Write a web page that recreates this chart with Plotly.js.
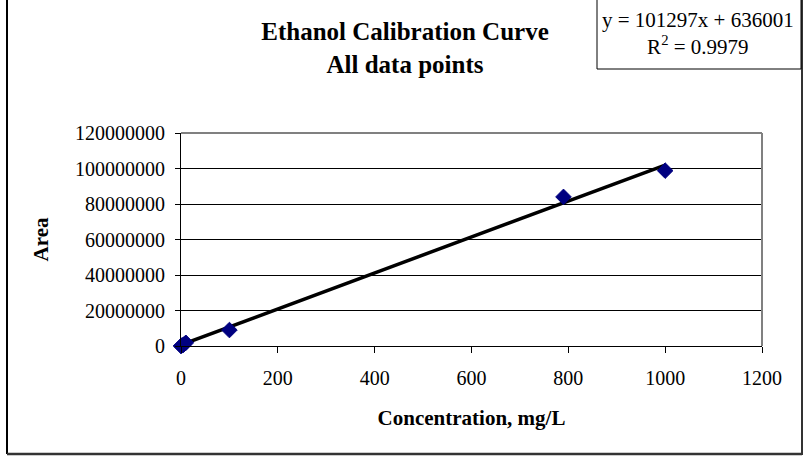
<!DOCTYPE html>
<html>
<head>
<meta charset="utf-8">
<script src="https://cdn.plot.ly/plotly-3.0.1.min.js"></script>
<style>html,body{margin:0;padding:0;background:#fff;}#chart{width:804px;height:462px;}</style>
</head>
<body>
<div id="chart"></div>
<script>
// Data
const concentration = [0, 2, 5, 10, 100, 790, 1000];
const area = [0, 300000, 700000, 1800000, 9000000, 84000000, 98800000];
const slope = 101297;
const intercept = 636001;
const trendX = [0, 1000];
const trendY = trendX.map(x => slope * x + intercept);
const xTicks = [0, 200, 400, 600, 800, 1000, 1200];
const yTicks = [0, 20000000, 40000000, 60000000, 80000000, 100000000, 120000000];

const L = 181, R = 42, T = 133, B = 116, W = 804, H = 462;
const pw = W - L - R, ph = H - T - B;
const px = v => (v - L) / pw;          // pixel -> paper x
const py = v => (H - B - v) / ph;      // pixel -> paper y

const serif = "Liberation Serif, Times New Roman, serif";

const traces = [
  {
    x: trendX, y: trendY, mode: 'lines', type: 'scatter',
    line: {color: '#000000', width: 3.5}, hoverinfo: 'skip', showlegend: false
  },
  {
    x: concentration, y: area, mode: 'markers', type: 'scatter',
    marker: {symbol: 'diamond', size: 12, color: '#000080', line: {color: '#000080', width: 1}},
    showlegend: false, cliponaxis: false
  }
];

const layout = {
  width: W, height: H,
  margin: {l: L, r: R, t: T, b: B},
  paper_bgcolor: '#ffffff', plot_bgcolor: '#ffffff',
  font: {family: serif, color: '#000000', size: 20},
  title: {
    text: '<b>Ethanol Calibration Curve<br>All data points</b>',
    font: {family: serif, size: 25, color: '#000'},
    x: 405 / W, xref: 'container', xanchor: 'center',
    y: 1 - 40 / H, yref: 'container', yanchor: 'middle'
  },
  xaxis: {
    range: [0, 1200], tickvals: xTicks, ticktext: xTicks.map(String),
    showgrid: false, zeroline: false, showline: true, linecolor: '#000', linewidth: 1,
    ticks: 'outside', ticklen: 6, tickcolor: '#000', tickfont: {family: serif, size: 20},
    ticklabelstandoff: 8,
    title: {text: '<b>Concentration, mg/L</b>', font: {family: serif, size: 21}, standoff: 22}
  },
  yaxis: {
    range: [0, 120000000], tickvals: yTicks, ticktext: yTicks.map(String),
    showgrid: true, gridcolor: '#000', gridwidth: 1,
    zeroline: false, showline: true, linecolor: '#000', linewidth: 1,
    ticks: 'outside', ticklen: 5, tickcolor: '#000', tickfont: {family: serif, size: 20},
    ticklabelstandoff: 6,
    title: {text: '<b>Area</b>', font: {family: serif, size: 21}, standoff: 20}
  },
  shapes: [
    // plot area border (gray top/right)
    {type: 'line', xref: 'paper', yref: 'paper', x0: 0, x1: 1, y0: 1, y1: 1, line: {color: '#808080', width: 2}},
    {type: 'line', xref: 'paper', yref: 'paper', x0: 1, x1: 1, y0: 0, y1: 1, line: {color: '#808080', width: 2}},
    // outer chart border
    {type: 'line', xref: 'paper', yref: 'paper', x0: px(7), x1: px(7), y0: py(-2), y1: py(454), line: {color: '#000', width: 2}},
    {type: 'line', xref: 'paper', yref: 'paper', x0: px(7), x1: px(802), y0: py(454), y1: py(454), line: {color: '#333', width: 2.5}},
    {type: 'line', xref: 'paper', yref: 'paper', x0: px(802), x1: px(802), y0: py(-2), y1: py(455), line: {color: '#333', width: 2}},
    // equation box
    {type: 'rect', xref: 'paper', yref: 'paper', x0: px(597), x1: px(801), y0: py(69), y1: py(-2), line: {color: '#000', width: 1}, fillcolor: 'rgba(0,0,0,0)'}
  ],
  annotations: [
    {
      xref: 'paper', yref: 'paper', x: px(698), y: py(33), xanchor: 'center', yanchor: 'middle',
      text: 'y = 101297x + 636001<br>R<sup>2</sup> = 0.9979', showarrow: false, align: 'center',
      font: {family: serif, size: 21, color: '#000'}
    }
  ]
};

Plotly.newPlot('chart', traces, layout, {displayModeBar: false, staticPlot: true});
</script>
</body>
</html>
